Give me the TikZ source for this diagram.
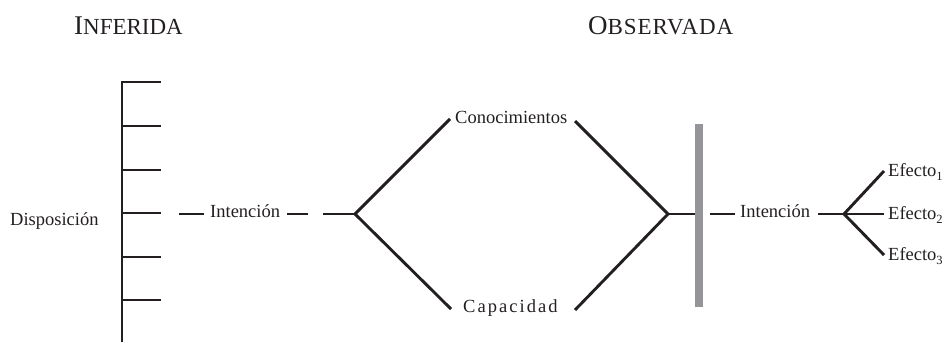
\documentclass[tikz,border=0pt]{standalone}
\usepackage{fontspec}
\setmainfont{Liberation Serif}
\newfontfamily\spacedfont[LetterSpace=11]{Liberation Serif}
\newfontfamily\headspaced[LetterSpace=4]{Liberation Serif}
\definecolor{ink}{RGB}{35,31,32}
\definecolor{bargray}{RGB}{147,149,152}
\newcommand{\effsub}[1]{\raisebox{-4.5pt}{\fontsize{12.5}{13}\selectfont #1}}
\begin{document}
\begin{tikzpicture}[x=1pt,y=-1pt,
  ln/.style={line width=2.9pt, draw=ink},
  lbl/.style={inner sep=0pt, anchor=base west, text=ink, font=\fontsize{18.5}{20}\selectfont},
  head/.style={inner sep=0pt, anchor=base west, text=ink},
]
\useasboundingbox (0,0) rectangle (947,342);
% headings
\node[head] (inf) at (74,35) {\fontsize{27}{30}\selectfont I\fontsize{23}{26}\selectfont NFERIDA};
\node[head] (obs) at (588,35) {\fontsize{27}{30}\selectfont O\headspaced\fontsize{23}{26}\selectfont BSERVADA};
% spine
\coordinate (sTop) at (122,82);
\coordinate (sBot) at (122,342);
\coordinate (t0) at (161,82);
\draw[ln] (t0) -- (sTop) -- (sBot);
\foreach \y [count=\i] in {126,170,213,257,300}{
  \coordinate (a\i) at (122,\y);
  \coordinate (b\i) at (161,\y);
  \draw[ln] (a\i) -- (b\i);
}
\node[lbl] (disp) at (10,225) {Disposición};
% left intention
\coordinate (d1a) at (179,214);
\coordinate (d1b) at (204,214);
\node[lbl] (int1) at (210,217) {Intención};
\coordinate (d2a) at (287,214);
\coordinate (d2b) at (308,214);
\coordinate (d3a) at (323,214);
\coordinate (J1) at (355,214);
\draw[ln] (d1a) -- (d1b);
\draw[ln] (d2a) -- (d2b);
\draw[ln] (d3a) -- (J1);
% diamond
\node[lbl] (con) at (455,124) {Conocimientos};
\node[lbl] (cap) at (463,312) {\spacedfont Capacidad};
\coordinate (cUL) at (450,119);
\coordinate (cUR) at (575,121);
\coordinate (cLL) at (451,309);
\coordinate (cLR) at (575,310);
\coordinate (J2) at (668,214);
\draw[ln] (cUL) -- (J1) -- (cLL);
\draw[ln] (cUR) -- (J2) -- (cLR);
% bar
\node[fill=bargray, inner sep=0pt, minimum width=8pt, minimum height=183pt] (bar) at (699,215.5) {};
\draw[ln] (J2) -- (J2 -| bar.west);
% right intention
\coordinate (e1a) at (710,214);
\coordinate (e1b) at (735,214);
\node[lbl] (int2) at (740,217) {Intención};
\coordinate (e2a) at (818,214);
\coordinate (J3) at (844,214);
\draw[ln] (e1a) -- (e1b);
\draw[ln] (e2a) -- (J3);
% effects
\coordinate (f1) at (884,171);
\coordinate (f2) at (884,214);
\coordinate (f3) at (884,255);
\draw[ln] (f1) -- (J3) -- (f3);
\draw[ln] (J3) -- (f2);
\node[lbl] (ef1) at (888,176) {Efecto\effsub{1}};
\node[lbl] (ef2) at (888,219) {Efecto\effsub{2}};
\node[lbl] (ef3) at (888,260) {Efecto\effsub{3}};
\end{tikzpicture}
\end{document}
